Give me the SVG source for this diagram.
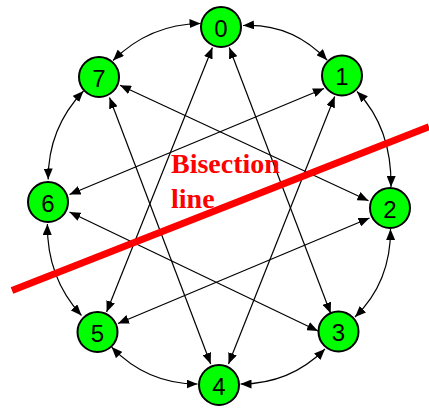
<svg xmlns="http://www.w3.org/2000/svg" width="429" height="410" viewBox="0 0 429 410">
<style>
.node circle{fill:#00ff00;stroke:#000;stroke-width:2}
.node text{font-family:"Liberation Sans",Arial,sans-serif;font-size:24px;fill:#000;text-anchor:middle;dominant-baseline:central}
.edge{fill:none;stroke:#000;stroke-width:1.2;marker-start:url(#ah);marker-end:url(#ah)}
.lbl{font-family:"Liberation Serif","Times New Roman",serif;font-weight:bold;font-size:28px;fill:#ff0000}
</style>
<defs>
<marker id="ah" markerUnits="userSpaceOnUse" markerWidth="11" markerHeight="9" refX="11" refY="4.5" orient="auto-start-reverse">
<path d="M0,0 L11,4.5 L0,9 z" fill="#000"/>
</marker>
</defs>
<rect width="429" height="410" fill="#fff"/>
<g id="connectors">
<path class="edge" d="M243,25.5 Q292,23 327.2,60.2"/>
<path class="edge" d="M357,91.5 Q392,128 391,187"/>
<path class="edge" d="M390.5,229 Q391,282 355,317"/>
<path class="edge" d="M325,349 Q290,384 240.5,384"/>
<path class="edge" d="M197.5,384 Q147,384 111.6,347.1"/>
<path class="edge" d="M81.5,315.5 Q46.7,277.8 47.4,224"/>
<path class="edge" d="M48.2,179.5 Q48,128 83.5,91"/>
<path class="edge" d="M113,60.5 Q150,24 200.5,23.5"/>
<path class="edge" d="M212.4,47.5 L106.6,312"/>
<path class="edge" d="M229.3,47.5 L330.7,313.5"/>
<path class="edge" d="M109.5,97.5 L210.7,364"/>
<path class="edge" d="M120,85.3 L368.5,200.7"/>
<path class="edge" d="M324,88.5 L69.5,194.5"/>
<path class="edge" d="M334.7,96.5 L228.5,364"/>
<path class="edge" d="M69.5,212 L318,331"/>
<path class="edge" d="M369.5,218 L118,323.5"/>
</g>
<g id="n0" class="node"><circle cx="221" cy="27" r="20"/><text x="221" y="28">0</text></g>
<g id="n1" class="node"><circle cx="342" cy="75.5" r="20"/><text x="342" y="76.5">1</text></g>
<g id="n2" class="node"><circle cx="390" cy="208" r="20"/><text x="390" y="209">2</text></g>
<g id="n3" class="node"><circle cx="338.5" cy="331.5" r="20"/><text x="338.5" y="332.5">3</text></g>
<g id="n4" class="node"><circle cx="219" cy="385" r="20"/><text x="219" y="386">4</text></g>
<g id="n5" class="node"><circle cx="97.5" cy="332" r="20"/><text x="97.5" y="333">5</text></g>
<g id="n6" class="node"><circle cx="48" cy="202" r="20"/><text x="48" y="203">6</text></g>
<g id="n7" class="node"><circle cx="99" cy="77" r="20"/><text x="99" y="78">7</text></g>
<g id="bisection">
<line x1="12" y1="290.5" x2="429" y2="126.7" stroke="#ff0000" stroke-width="7"/>
<text class="lbl" x="171" y="173">Bisection</text>
<text class="lbl" x="171" y="208">line</text>
</g>
</svg>
